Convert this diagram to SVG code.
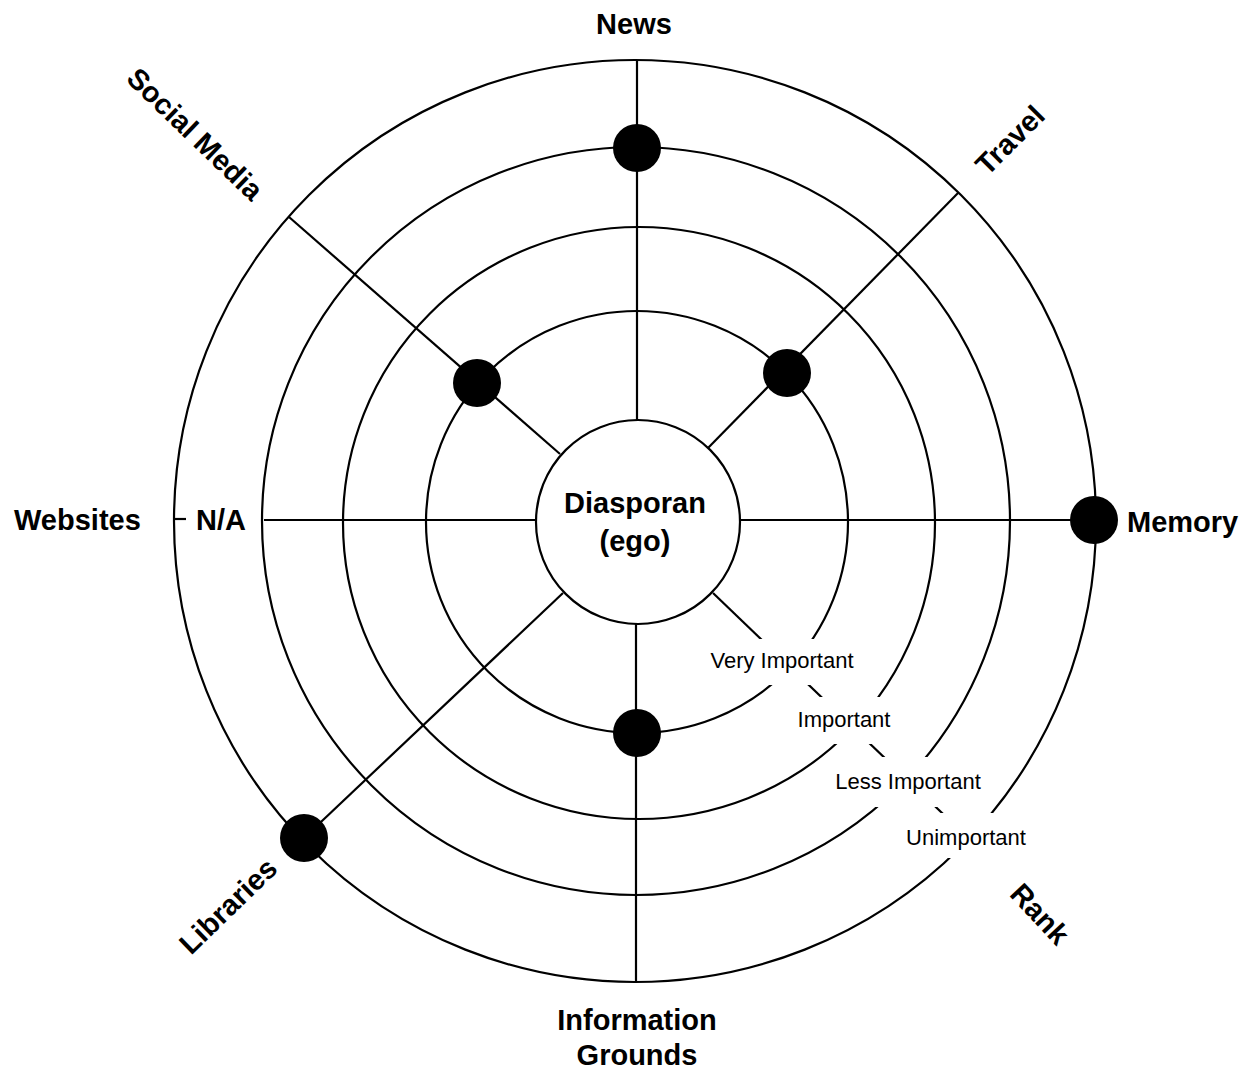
<svg xmlns="http://www.w3.org/2000/svg" width="1252" height="1072" viewBox="0 0 1252 1072">
<style>
.ring{fill:none;stroke:#000;stroke-width:2.2}
.sp{stroke:#000;stroke-width:2.2;fill:none}
.dot{fill:#000}
.b{font-family:"Liberation Sans",Arial,Helvetica,sans-serif;font-weight:bold;font-size:29px;fill:#000}
.r{font-family:"Liberation Sans",Arial,Helvetica,sans-serif;font-size:22px;fill:#000}
.bg{fill:#fff;stroke:none}
</style>
<rect width="1252" height="1072" fill="#fff"/>
<g id="rings">
<circle class="ring" cx="635" cy="521" r="461"/>
<circle class="ring" cx="636" cy="521" r="374"/>
<circle class="ring" cx="639" cy="523" r="296"/>
<circle class="ring" cx="637" cy="522" r="211"/>
</g>
<g id="connectors">
<line class="sp" x1="637" y1="60" x2="637" y2="420"/>
<line class="sp" x1="636" y1="623" x2="636" y2="981"/>
<line class="sp" x1="264" y1="520" x2="536" y2="520"/>
<line class="sp" x1="173" y1="519" x2="186" y2="519"/>
<line class="sp" x1="740" y1="520" x2="1096" y2="520"/>
<line class="sp" x1="289" y1="217" x2="560" y2="454"/>
<line class="sp" x1="708" y1="448" x2="958" y2="193"/>
<line class="sp" x1="563" y1="593" x2="304" y2="838"/>
<line class="sp" x1="713" y1="593" x2="966" y2="836"/>
</g>
<g id="rank-labels">
<rect class="bg" x="703" y="639" width="157" height="46"/>
<rect class="bg" x="790" y="697" width="110" height="47"/>
<rect class="bg" x="828" y="757" width="160" height="50"/>
<rect class="bg" x="898" y="813" width="136" height="45"/>
<text class="r" x="782" y="668" text-anchor="middle">Very Important</text>
<text class="r" x="844" y="727" text-anchor="middle">Important</text>
<text class="r" x="908" y="789" text-anchor="middle">Less Important</text>
<text class="r" x="966" y="845" text-anchor="middle">Unimportant</text>
</g>
<g id="ego">
<circle cx="638" cy="522" r="102" fill="#fff" stroke="#000" stroke-width="2.2"/>
<text class="b" x="635" y="513" text-anchor="middle">Diasporan</text>
<text class="b" x="635" y="551" text-anchor="middle">(ego)</text>
</g>
<g id="news"><circle class="dot" cx="637" cy="148" r="24"/><text class="b" x="634" y="34" text-anchor="middle">News</text></g>
<g id="travel"><circle class="dot" cx="787" cy="373" r="24"/><text class="b" transform="translate(1010,140) rotate(-45)" x="0" y="10" text-anchor="middle">Travel</text></g>
<g id="memory"><circle class="dot" cx="1094" cy="520" r="24"/><text class="b" x="1127" y="532">Memory</text></g>
<g id="social-media"><circle class="dot" cx="477" cy="383" r="24"/><text class="b" transform="translate(195,134) rotate(44)" x="0" y="10" text-anchor="middle">Social Media</text></g>
<g id="websites"><text class="b" x="14" y="530">Websites</text><text class="b" x="196" y="530">N/A</text></g>
<g id="libraries"><circle class="dot" cx="304" cy="838" r="24"/><text class="b" transform="translate(228,906) rotate(-44)" x="0" y="10" text-anchor="middle">Libraries</text></g>
<g id="information-grounds"><circle class="dot" cx="637" cy="733" r="24"/><text class="b" x="637" y="1030" text-anchor="middle">Information</text><text class="b" x="637" y="1065" text-anchor="middle">Grounds</text></g>
<g id="rank"><text class="b" transform="translate(1040,914) rotate(47)" x="0" y="10" text-anchor="middle">Rank</text></g>
</svg>
